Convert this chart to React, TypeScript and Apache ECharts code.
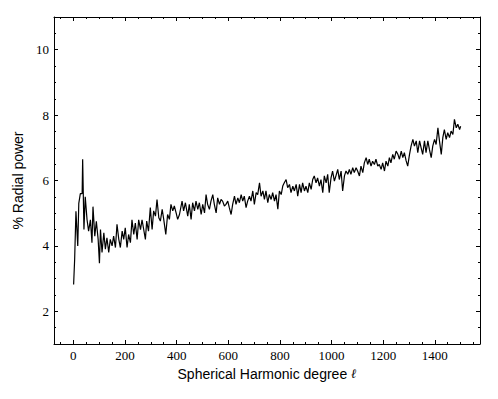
import React, { useEffect, useRef } from "react";
import * as echarts from "echarts";

// Spherical harmonic degree ℓ and % radial power
const degree = [
  1, 5, 10, 17, 21, 27, 34, 36, 41, 46, 53, 59, 66, 72, 76, 83, 89, 96, 101, 105,
  111, 118, 124, 130, 137, 143, 150, 156, 163, 169, 176, 182, 189, 195, 201, 208, 214, 221, 227, 234,
  240, 247, 253, 260, 266, 279, 284, 291, 298, 305, 311, 318, 324, 331, 337, 344, 350, 358, 365, 372,
  378, 385, 391, 398, 404, 411, 421, 427, 434, 443, 449, 456, 462, 469, 475, 482, 488, 495, 501, 508,
  514, 520, 527, 533, 540, 546, 553, 559, 566, 572, 578, 585, 591, 598, 604, 611, 617, 624, 630, 637,
  643, 650, 656, 662, 669, 675, 682, 688, 695, 701, 708, 714, 721, 727, 734, 740, 746, 753, 759, 766,
  772, 779, 785, 792, 798, 805, 811, 817, 824, 830, 837, 843, 850, 856, 863, 869, 876, 882, 888, 895,
  901, 908, 914, 921, 927, 933, 940, 946, 953, 959, 966, 972, 979, 985, 991, 998, 1004, 1011, 1017, 1024,
  1030, 1037, 1043, 1050, 1056, 1063, 1069, 1075, 1082, 1088, 1095, 1101, 1108, 1114, 1121, 1127, 1134, 1140, 1146, 1153,
  1159, 1166, 1172, 1179, 1185, 1192, 1198, 1205, 1211, 1218, 1224, 1230, 1237, 1243, 1250, 1257, 1263, 1270, 1276, 1282,
  1289, 1295, 1302, 1308, 1315, 1321, 1328, 1334, 1341, 1347, 1353, 1360, 1366, 1373, 1379, 1386, 1392, 1399, 1405, 1412,
  1418, 1425, 1431, 1437, 1444, 1450, 1457, 1463, 1470, 1476, 1483, 1489, 1496, 1500,
];
const power = [
  2.82, 3.59, 5.06, 4.0, 5.3, 5.6, 5.6, 6.65, 4.5, 5.5, 4.8, 4.45, 4.8, 4.1, 5.2, 4.3, 4.75, 4.2, 3.47, 4.5,
  3.8, 4.4, 3.9, 4.25, 3.8, 4.2, 4.0, 4.3, 3.95, 4.66, 4.2, 3.95, 4.45, 4.2, 4.55, 3.95, 4.35, 4.1, 4.8, 4.35,
  4.7, 4.2, 4.8, 4.5, 4.8, 4.2, 4.76, 4.45, 5.17, 4.5, 5.07, 4.91, 5.42, 4.86, 4.76, 5.12, 4.81, 4.35, 4.96, 4.81,
  5.27, 5.07, 5.22, 5.01, 4.81, 4.96, 5.37, 5.07, 5.32, 4.91, 5.27, 4.81, 5.32, 5.07, 5.37, 5.12, 5.32, 4.96, 5.27, 5.01,
  5.57, 5.27, 5.12, 5.37, 5.57, 5.27, 5.01, 5.47, 5.27, 5.42, 5.37, 5.22, 5.27, 5.37, 5.17, 4.96, 5.27, 5.52, 5.27, 5.47,
  5.32, 5.57, 5.37, 5.52, 5.17, 5.37, 5.52, 5.37, 5.68, 5.27, 5.63, 5.57, 5.93, 5.52, 5.68, 5.42, 5.68, 5.32, 5.57, 5.42,
  5.63, 5.37, 5.57, 5.12, 5.68, 5.57, 5.83, 5.93, 6.03, 5.78, 5.88, 5.63, 5.83, 5.68, 5.88, 5.52, 5.88, 5.63, 5.93, 5.68,
  5.83, 5.63, 5.93, 5.73, 6.03, 6.14, 5.93, 6.08, 5.83, 6.03, 5.63, 6.14, 5.93, 6.19, 5.63, 6.08, 6.29, 5.98, 6.14, 6.34,
  6.03, 6.29, 5.68, 6.14, 6.29, 6.19, 6.34, 6.19, 6.39, 6.24, 6.39, 6.29, 6.14, 6.44, 6.24, 6.54, 6.7, 6.49, 6.65, 6.44,
  6.59, 6.49, 6.65, 6.44, 6.49, 6.34, 6.54, 6.29, 6.59, 6.44, 6.7, 6.54, 6.8, 6.65, 6.9, 6.8, 6.65, 6.9, 6.7, 6.85,
  6.6, 6.44, 6.8, 7.05, 7.26, 7.05, 7.21, 6.85, 7.21, 7.0, 6.8, 7.21, 6.85, 7.21, 6.95, 6.7, 7.05, 7.26, 7.1, 7.61,
  7.21, 6.8, 7.31, 7.56, 7.26, 7.46, 7.31, 7.51, 7.41, 7.87, 7.61, 7.72, 7.56, 7.66,
];

const xMajorTicks = [0, 200, 400, 600, 800, 1000, 1200, 1400];
const xMinorTicks = [-50, 50, 100, 150, 250, 300, 350, 450, 500, 550, 650, 700, 750, 850, 900, 950, 1050, 1100, 1150, 1250, 1300, 1350, 1450, 1500, 1550];
const yMajorTicks = [2, 4, 6, 8, 10];
const yMinorTicks = [1.5, 2.5, 3, 3.5, 4.5, 5, 5.5, 6.5, 7, 7.5, 8.5, 9, 9.5, 10.5];

const X_MIN = -75;
const X_MAX = 1575;
const Y_MIN = 1;
const Y_MAX = 11;

function makeAxis(
  kind: "x" | "y",
  position: string,
  values: number[],
  length: number,
  withLabels: boolean,
  withLine: boolean,
  extra: any = {}
) {
  return {
    type: "value",
    gridIndex: 0,
    position,
    min: kind === "x" ? X_MIN : Y_MIN,
    max: kind === "x" ? X_MAX : Y_MAX,
    axisLine: { show: withLine, onZero: false, lineStyle: { color: "#000", width: 1 } },
    splitLine: { show: false },
    axisTick: {
      show: true,
      inside: true,
      length,
      customValues: values,
      lineStyle: { color: "#000", width: 1 },
    },
    axisLabel: {
      show: withLabels,
      customValues: values,
      margin: 5,
      formatter: (v: number) => String(v),
      fontFamily: "Liberation Serif",
      fontSize: 13,
      color: "#000",
    },
    ...extra,
  };
}

export default function App() {
  const ref = useRef<HTMLDivElement>(null);
  useEffect(() => {
    if (!ref.current) return;
    const chart = echarts.init(ref.current, null, { renderer: "svg" });
    const option: any = {
      animation: false,
      backgroundColor: "#fff",
      grid: { left: 54, right: 18, top: 17, bottom: 55 },
      xAxis: [
        makeAxis("x", "bottom", xMajorTicks, 4, true, true, {
          name: "Spherical Harmonic degree {l|ℓ}",
          nameLocation: "middle",
          nameGap: 20,
          nameTextStyle: {
            fontFamily: "Liberation Sans",
            fontSize: 14,
            color: "#000",
            rich: {
              l: { fontFamily: "DejaVu Serif", fontStyle: "italic", fontSize: 13, color: "#000" },
            },
          },
        }),
        makeAxis("x", "bottom", xMinorTicks, 2, false, false),
        makeAxis("x", "top", xMajorTicks, 4, false, true),
        makeAxis("x", "top", xMinorTicks, 2, false, false),
      ],
      yAxis: [
        makeAxis("y", "left", yMajorTicks, 4, true, true, {
          name: "% Radial power",
          nameLocation: "middle",
          nameGap: 24,
          nameTextStyle: { fontFamily: "Liberation Sans", fontSize: 14, color: "#000" },
        }),
        makeAxis("y", "left", yMinorTicks, 2, false, false),
        makeAxis("y", "right", yMajorTicks, 4, false, true),
        makeAxis("y", "right", yMinorTicks, 2, false, false),
      ],
      series: [
        {
          type: "line",
          xAxisIndex: 0,
          yAxisIndex: 0,
          data: degree.map((d, i) => [d, power[i]]),
          showSymbol: false,
          symbol: "none",
          silent: true,
          lineStyle: { color: "#000", width: 1.2 },
        },
      ],
    };
    chart.setOption(option);
    return () => chart.dispose();
  }, []);
  return (
    <div
      ref={ref}
      style={{ position: "absolute", left: 0, top: 0, width: 498, height: 399 }}
    />
  );
}
